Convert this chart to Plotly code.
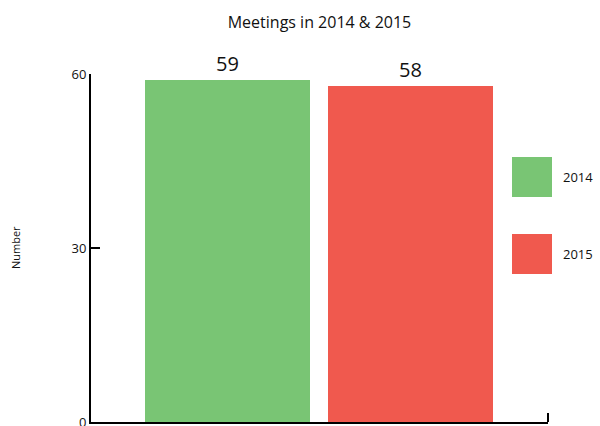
import plotly.graph_objects as go

categories = ["2014", "2015"]
values = [59, 58]
colors = ["#79C574", "#F0594E"]
y_ticks = [0, 30, 60]
title_text = "Meetings in 2014 & 2015"
y_title = "Number"

W, H = 600, 426
ml, mr, mt, mb = 91, 52, 74, 4
PW, PH = W - ml - mr, H - mt - mb

fig = go.Figure()
fig.add_trace(go.Bar(
    x=list(range(len(categories))), y=values,
    marker=dict(color=colors, line=dict(width=0)),
    width=0.9016,
    text=[str(v) for v in values], textposition="outside",
    textfont=dict(size=20, color="#111", family="Open Sans"),
    cliponaxis=False, showlegend=False, hoverinfo="skip",
))

shapes = []
annotations = []
for i, (c, col) in enumerate(zip(categories, colors)):
    ytop = 1 - (157 - mt) / PH - i * (77 / PH)
    yb = ytop - 40 / PH
    x0 = (512 - ml) / PW
    x1 = (552 - ml) / PW
    shapes.append(dict(type="rect", xref="paper", yref="paper", x0=x0, x1=x1, y0=yb, y1=ytop,
                       fillcolor=col, line=dict(width=0)))
    annotations.append(dict(xref="paper", yref="paper", x=(561 - ml) / PW, y=(ytop + yb) / 2,
                            text=c, showarrow=False, xanchor="left", yanchor="middle",
                            font=dict(size=13, color="#111", family="Open Sans")))

shapes.append(dict(type="line", xref="paper", yref="paper", x0=1, x1=1, y0=0, y1=9 / PH,
                   line=dict(color="black", width=2)))

annotations.append(dict(xref="paper", yref="paper", x=(15 - ml) / PW, y=0.5,
                        text=y_title, textangle=-90, showarrow=False, xanchor="center", yanchor="middle",
                        font=dict(size=11, color="#111", family="Open Sans")))

fig.update_layout(
    width=W, height=H,
    margin=dict(l=ml, r=mr, t=mt, b=mb, autoexpand=False),
    paper_bgcolor="white", plot_bgcolor="white",
    title=dict(text=title_text, x=0.5, xref="paper", xanchor="center", y=1 - 22 / H, yanchor="middle",
               font=dict(size=16, color="#111", family="Open Sans")),
    xaxis=dict(range=[-0.746, 1.751], showgrid=False, zeroline=False, showticklabels=False,
               showline=True, linecolor="black", linewidth=2, ticks="", automargin=False),
    yaxis=dict(range=[0, 60], tickvals=y_ticks, showgrid=False, zeroline=False,
               showline=True, linecolor="black", linewidth=2, ticks="inside", ticklen=9,
               tickwidth=2, tickcolor="black", automargin=False, ticklabeloverflow="allow",
               tickfont=dict(size=13, color="#111", family="Open Sans")),
    shapes=shapes, annotations=annotations,
    bargap=0,
)

fig.write_html("out.html", config={"displayModeBar": False},
               post_script="document.body.style.margin='0';document.body.style.overflow='hidden';")
